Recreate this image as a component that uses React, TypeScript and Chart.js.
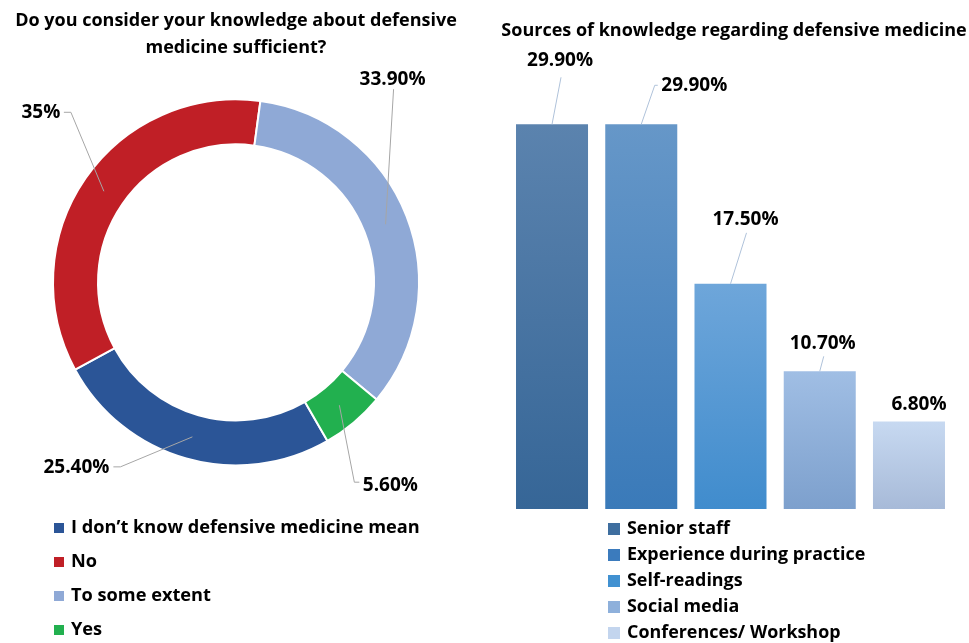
import React, { useEffect, useRef } from "react";
import { Chart, registerables } from "chart.js";

Chart.register(...registerables);

// ---------- data ----------
const knowledgeTitle = ["Do you consider your knowledge about defensive", "medicine sufficient?"];
const knowledgeCategories = ["I don\u2019t know defensive medicine mean", "No", "To some extent", "Yes"];
const knowledgeValues = [25.4, 35, 33.9, 5.6];
const knowledgeValueLabels = ["25.40%", "35%", "33.90%", "5.60%"];

const sourcesTitle = "Sources of knowledge regarding defensive medicine";
const sourceCategories = [
  "Senior staff",
  "Experience during practice",
  "Self-readings",
  "Social media",
  "Conferences/ Workshop",
];
const sourceValues = [29.9, 29.9, 17.5, 10.7, 6.8];
const sourceValueLabels = ["29.90%", "29.90%", "17.50%", "10.70%", "6.80%"];

// ---------- styles ----------
const FONT = "'Open Sans', Lato, sans-serif";
const knowledgeColors = ["#2B5597", "#C01F26", "#8FA9D6", "#22B04F"];
const sourceGradientTop = ["#5B83AE", "#6697C8", "#6EA6DA", "#A0BEE4", "#C7D9F1"];
const sourceGradientBottom = ["#366697", "#3A7AB9", "#408CCD", "#7DA0CD", "#A7BAD8"];
const sourceLegendColors = ["#3E6E9F", "#3B7BBD", "#4191D1", "#8EB0DB", "#C3D5EE"];

// label placement relative to anchor (arc centroid / bar top centre)
const knowledgeLabelLayout = [
  { dx: -116, dy: 31, ex: -72, ey: 30, tail: -7 },
  { dx: -63, dy: -79, ex: -33, ey: -79, tail: -7 },
  { dx: 7, dy: -145, ex: 8, ey: -135, tail: 0 },
  { dx: 51, dy: 80, ex: 15, ey: 77, tail: 5 },
];
const sourceLabelLayout = [
  { dx: 8, dy: -64, ex: 9, ey: -47, tail: 0 },
  { dx: 53, dy: -39, ex: 13.5, ey: -39, tail: 3 },
  { dx: 15, dy: -64, ex: 16, ey: -51, tail: 0 },
  { dx: 3, dy: -28, ex: 4, ey: -15, tail: 0 },
  { dx: 10, dy: -17, ex: 0, ey: 0, tail: 0, noLine: true },
];

// ---------- plugins ----------
const leaderLabelsPlugin = {
  id: "leaderLabels",
  afterDatasetsDraw(chart: any, _args: any, opts: any) {
    const { ctx } = chart;
    const meta = chart.getDatasetMeta(0);
    ctx.save();
    meta.data.forEach((el: any, i: number) => {
      const lay = opts.layout[i];
      let ax: number, ay: number;
      if (opts.kind === "arc") {
        const p = el.getCenterPoint();
        ax = p.x;
        ay = p.y;
      } else {
        const p = el.getProps(["x", "y"], true);
        ax = p.x;
        ay = p.y;
      }
      if (!lay.noLine) {
        ctx.beginPath();
        ctx.strokeStyle = opts.lineColor;
        ctx.lineWidth = 1;
        ctx.moveTo(ax, ay);
        ctx.lineTo(ax + lay.ex, ay + lay.ey);
        if (lay.tail) ctx.lineTo(ax + lay.ex + lay.tail, ay + lay.ey);
        ctx.stroke();
      }
      ctx.fillStyle = "#000";
      ctx.font = opts.font;
      ctx.textAlign = "center";
      ctx.textBaseline = "middle";
      ctx.fillText(opts.texts[i], ax + lay.dx, ay + lay.dy);
    });
    ctx.restore();
  },
};

const listLegendPlugin = {
  id: "listLegend",
  afterDraw(chart: any, _args: any, opts: any) {
    const { ctx } = chart;
    const labels: string[] = chart.data.labels;
    ctx.save();
    labels.forEach((lab, i) => {
      const cy = opts.y + i * opts.step;
      ctx.fillStyle = opts.colors[i];
      ctx.fillRect(opts.x, cy - opts.box / 2, opts.box, opts.box);
      ctx.fillStyle = "#000";
      ctx.font = opts.font;
      ctx.textAlign = "left";
      ctx.textBaseline = "middle";
      ctx.fillText(lab, opts.textX, cy);
    });
    ctx.restore();
  },
};

const panelTitlePlugin = {
  id: "panelTitle",
  afterDraw(chart: any, _args: any, opts: any) {
    if (!opts || !opts.text) return;
    const { ctx } = chart;
    ctx.save();
    ctx.fillStyle = "#000";
    ctx.font = opts.font;
    ctx.textAlign = "center";
    ctx.textBaseline = "middle";
    ctx.fillText(opts.text, opts.x, opts.y);
    ctx.restore();
  },
};

function DoughnutPanel() {
  const ref = useRef<HTMLCanvasElement | null>(null);
  useEffect(() => {
    if (!ref.current) return;
    const chart = new Chart(ref.current, {
      type: "doughnut",
      data: {
        labels: knowledgeCategories,
        datasets: [
          {
            data: knowledgeValues,
            backgroundColor: knowledgeColors,
            borderColor: "#ffffff",
            borderWidth: 2,
          },
        ],
      },
      options: {
        animation: false,
        responsive: false,
        rotation: 150,
        radius: 183,
        cutout: "75.4%",
        layout: { padding: { left: 0, right: 0, top: 0, bottom: 174 } },
        plugins: {
          legend: { display: false },
          tooltip: { enabled: false },
          title: {
            display: true,
            text: knowledgeTitle,
            color: "#000",
            font: { family: FONT, size: 18, weight: "bold", lineHeight: 1.47 },
            padding: { top: 7.7, bottom: 35.2 },
          },
          leaderLabels: {
            kind: "arc",
            layout: knowledgeLabelLayout,
            texts: knowledgeValueLabels,
            lineColor: "#A6A6A6",
            font: `bold 19px ${FONT}`,
          },
          listLegend: {
            x: 54,
            y: 528,
            step: 34,
            box: 10,
            textX: 71,
            colors: knowledgeColors,
            font: `bold 18.2px ${FONT}`,
          },
        } as any,
      },
      plugins: [leaderLabelsPlugin, listLegendPlugin],
    });
    return () => chart.destroy();
  }, []);
  return (
    <canvas
      ref={ref}
      width={472}
      height={643}
      style={{ position: "absolute", left: 0, top: 0, width: 472, height: 643 }}
    />
  );
}

function BarPanel() {
  const ref = useRef<HTMLCanvasElement | null>(null);
  useEffect(() => {
    if (!ref.current) return;
    const chart = new Chart(ref.current, {
      type: "bar",
      data: {
        labels: sourceCategories,
        datasets: [
          {
            data: sourceValues,
            barPercentage: 0.807,
            categoryPercentage: 1,
            backgroundColor: (c: any) => {
              const i = c.dataIndex ?? 0;
              const chartRef = c.chart;
              if (!chartRef.chartArea || c.type !== "data" || !chartRef.scales.y) return sourceGradientBottom[i];
              const ys = chartRef.scales.y;
              const yTop = ys.getPixelForValue(sourceValues[i]);
              const yBot = ys.getPixelForValue(0);
              const g = chartRef.ctx.createLinearGradient(0, yTop, 0, yBot);
              g.addColorStop(0, sourceGradientTop[i]);
              g.addColorStop(1, sourceGradientBottom[i]);
              return g;
            },
          },
        ],
      },
      options: {
        animation: false,
        responsive: false,
        layout: { padding: { left: 17.4, right: 15.4, top: 123, bottom: 134 } },
        scales: {
          x: { display: false },
          y: { display: false, min: 0, max: 30 },
        },
        plugins: {
          legend: { display: false },
          tooltip: { enabled: false },
          title: { display: false },
          panelTitle: {
            text: sourcesTitle,
            x: 244,
            y: 31,
            font: `bold 18px ${FONT}`,
          },
          leaderLabels: {
            kind: "bar",
            layout: sourceLabelLayout,
            texts: sourceValueLabels,
            lineColor: "#AFC2DA",
            font: `bold 19px ${FONT}`,
          },
          listLegend: {
            x: 118,
            y: 529,
            step: 26,
            box: 12,
            textX: 137,
            colors: sourceLegendColors,
            font: `bold 17.9px ${FONT}`,
          },
        } as any,
      },
      plugins: [leaderLabelsPlugin, listLegendPlugin, panelTitlePlugin],
    });
    return () => chart.destroy();
  }, []);
  return (
    <canvas
      ref={ref}
      width={479}
      height={643}
      style={{ position: "absolute", left: 490, top: 0, width: 479, height: 643 }}
    />
  );
}

export default function App() {
  useEffect(() => {
    document.body.style.margin = "0";
  }, []);
  return (
    <div style={{ position: "relative", width: 969, height: 643, background: "#fff", overflow: "hidden" }}>
      <DoughnutPanel />
      <BarPanel />
    </div>
  );
}
